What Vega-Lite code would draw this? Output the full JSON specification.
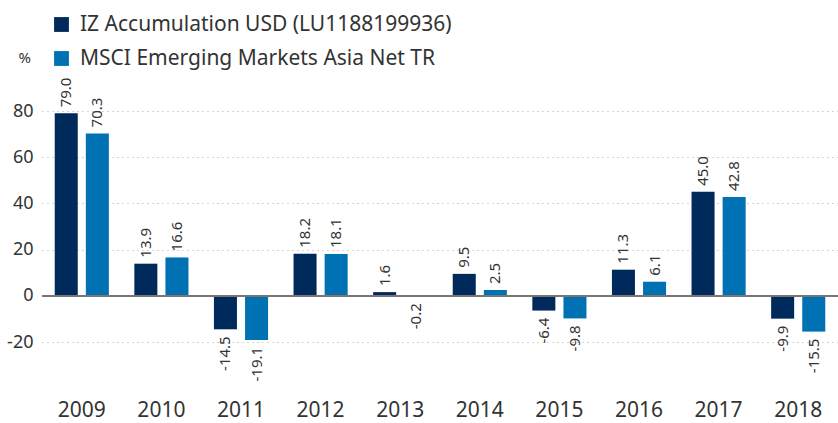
{
  "$schema": "https://vega.github.io/schema/vega-lite/v6.json",
  "autosize": {"type": "none"},
  "padding": {"left": 42, "top": 111, "right": 0, "bottom": 81},
  "width": 796,
  "height": 231,
  "background": "white",
  "config": {
    "font": "Noto Sans",
    "view": {"stroke": null}
  },
  "data": {
    "values": [
      {"year": "2009", "series": "IZ Accumulation USD (LU1188199936)", "value": 79.0},
      {"year": "2009", "series": "MSCI Emerging Markets Asia Net TR", "value": 70.3},
      {"year": "2010", "series": "IZ Accumulation USD (LU1188199936)", "value": 13.9},
      {"year": "2010", "series": "MSCI Emerging Markets Asia Net TR", "value": 16.6},
      {"year": "2011", "series": "IZ Accumulation USD (LU1188199936)", "value": -14.5},
      {"year": "2011", "series": "MSCI Emerging Markets Asia Net TR", "value": -19.1},
      {"year": "2012", "series": "IZ Accumulation USD (LU1188199936)", "value": 18.2},
      {"year": "2012", "series": "MSCI Emerging Markets Asia Net TR", "value": 18.1},
      {"year": "2013", "series": "IZ Accumulation USD (LU1188199936)", "value": 1.6},
      {"year": "2013", "series": "MSCI Emerging Markets Asia Net TR", "value": -0.2},
      {"year": "2014", "series": "IZ Accumulation USD (LU1188199936)", "value": 9.5},
      {"year": "2014", "series": "MSCI Emerging Markets Asia Net TR", "value": 2.5},
      {"year": "2015", "series": "IZ Accumulation USD (LU1188199936)", "value": -6.4},
      {"year": "2015", "series": "MSCI Emerging Markets Asia Net TR", "value": -9.8},
      {"year": "2016", "series": "IZ Accumulation USD (LU1188199936)", "value": 11.3},
      {"year": "2016", "series": "MSCI Emerging Markets Asia Net TR", "value": 6.1},
      {"year": "2017", "series": "IZ Accumulation USD (LU1188199936)", "value": 45.0},
      {"year": "2017", "series": "MSCI Emerging Markets Asia Net TR", "value": 42.8},
      {"year": "2018", "series": "IZ Accumulation USD (LU1188199936)", "value": -9.9},
      {"year": "2018", "series": "MSCI Emerging Markets Asia Net TR", "value": -15.5}
    ]
  },
  "transform": [
    {"calculate": "replace(format(datum.value, '.1f'), '\u2212', '-')", "as": "label"}
  ],
  "encoding": {
    "x": {
      "field": "year", "type": "nominal",
      "scale": {"paddingInner": 0.32, "paddingOuter": 0.16},
      "axis": {
        "title": null, "labelAngle": 0, "domain": false, "ticks": false,
        "labelPadding": 57, "labelDx": -5, "labelFontSize": 21, "labelColor": "#333333", "grid": false
      }
    },
    "xOffset": {
      "field": "series", "type": "nominal",
      "scale": {"paddingInner": 0.26, "paddingOuter": 0}
    },
    "y": {
      "field": "value", "type": "quantitative",
      "scale": {"domain": [-20, 80], "nice": false, "zero": false},
      "axis": {
        "title": "%", "titleAngle": 0, "titleAlign": "left", "titleBaseline": "middle",
        "titleX": -24, "titleY": -54, "titleFontSize": 15, "titleFontWeight": "normal", "titleColor": "#333333",
        "values": [-20, 0, 20, 40, 60, 80],
        "labelExpr": "replace(datum.label, '\u2212', '-')",
        "domain": false, "ticks": false, "labelPadding": 9,
        "labelFontSize": 18, "labelColor": "#333333",
        "grid": true, "gridDash": [1, 4], "gridColor": "#aaaaaa", "gridWidth": 1
      }
    }
  },
  "layer": [
    {
      "mark": {"type": "bar", "clip": false},
      "encoding": {
        "color": {
          "field": "series", "type": "nominal",
          "scale": {
            "domain": ["IZ Accumulation USD (LU1188199936)", "MSCI Emerging Markets Asia Net TR"],
            "range": ["#002a5c", "#0072b4"]
          },
          "legend": {
            "title": null, "orient": "none", "legendX": 9, "legendY": -97,
            "symbolType": "square", "symbolSize": 220, "symbolStrokeWidth": 0,
            "labelFontSize": 21, "labelColor": "#333333", "labelOffset": 8,
            "rowPadding": 12, "labelLimit": 500
          }
        }
      }
    },
    {
      "mark": {"type": "rule", "color": "#777777", "strokeWidth": 1.5},
      "encoding": {"y": {"datum": 0}, "x": null, "xOffset": null}
    },
    {
      "transform": [{"filter": "datum.value >= 0"}],
      "mark": {"type": "text", "angle": 270, "align": "left", "baseline": "middle", "dx": 6, "fontSize": 15, "color": "#333333"},
      "encoding": {"text": {"field": "label", "type": "nominal"}}
    },
    {
      "transform": [{"filter": "datum.value < 0"}],
      "mark": {"type": "text", "angle": 270, "align": "right", "baseline": "middle", "dx": -7, "fontSize": 15, "color": "#333333"},
      "encoding": {"text": {"field": "label", "type": "nominal"}}
    }
  ]
}
